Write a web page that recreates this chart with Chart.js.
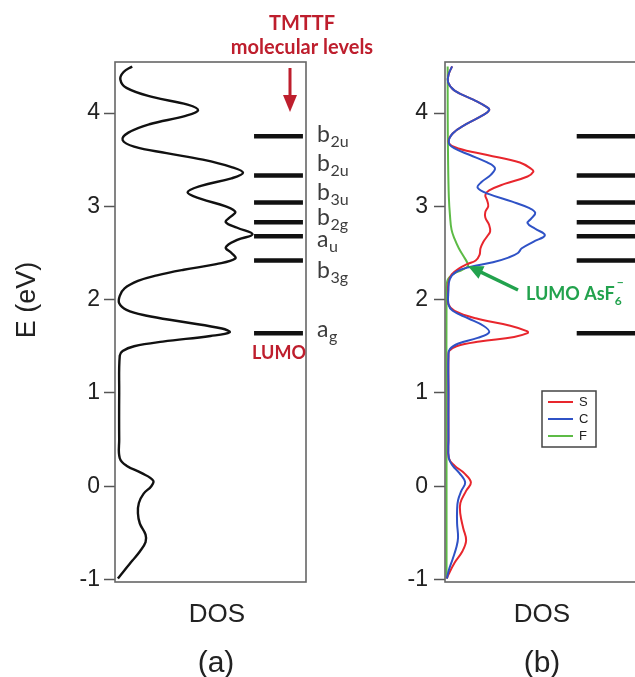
<!DOCTYPE html>
<html>
<head>
<meta charset="utf-8">
<script src="https://cdn.jsdelivr.net/npm/chart.js@4.4.1/dist/chart.umd.min.js"></script>
<style>
  html, body { margin: 0; padding: 0; background: #fff; overflow: hidden; }
  #wrap { position: relative; width: 660px; height: 677px; }
  canvas { position: absolute; top: 0; }
</style>
</head>
<body>
<div id="wrap">
  <canvas id="chartA" width="400" height="677" style="left:0"></canvas>
  <canvas id="chartB" width="340" height="677" style="left:320px"></canvas>
</div>
<script>
// energy axis
const yTicks = [-1, 0, 1, 2, 3, 4];
const eMin = -1.027, eMax = 4.547;

// (a) total DOS
const totalE = [4.50, 4.44, 4.36, 4.27, 4.17, 4.09, 4.03, 3.97, 3.88, 3.79, 3.71, 3.64, 3.57, 3.50, 3.42, 3.36, 3.30, 3.22, 3.15, 3.08,
  3.00, 2.94, 2.88, 2.83, 2.77, 2.70, 2.64, 2.56, 2.50, 2.44, 2.38, 2.32, 2.26, 2.20, 2.12, 2.04, 1.96, 1.89, 1.83, 1.76,
  1.69, 1.65, 1.61, 1.55, 1.50, 1.45, 1.40, 1.00, 0.50, 0.30, 0.22, 0.14, 0.06, 0.00, -0.08, -0.18, -0.29, -0.40, -0.52, -0.60,
  -0.70, -0.80, -0.90, -0.99];
const totalDOS = [0.09, 0.045, 0.028, 0.06, 0.20, 0.38, 0.435, 0.37, 0.18, 0.07, 0.04, 0.10, 0.27, 0.46, 0.61, 0.67, 0.61, 0.45, 0.38, 0.45,
  0.58, 0.63, 0.60, 0.58, 0.64, 0.72, 0.64, 0.58, 0.61, 0.63, 0.53, 0.36, 0.22, 0.12, 0.05, 0.025, 0.022, 0.06, 0.16, 0.36,
  0.56, 0.60, 0.50, 0.25, 0.10, 0.04, 0.025, 0.022, 0.022, 0.025, 0.06, 0.14, 0.20, 0.19, 0.15, 0.125, 0.12, 0.13, 0.16, 0.16,
  0.13, 0.09, 0.05, 0.015];

// (b) partial DOS
const cE = [4.50, 4.42, 4.33, 4.24, 4.14, 4.06, 4.03, 3.98, 3.88, 3.78, 3.68, 3.62, 3.55, 3.47, 3.41, 3.34, 3.26, 3.20, 3.13, 3.05,
  2.98, 2.93, 2.87, 2.82, 2.76, 2.69, 2.62, 2.55, 2.50, 2.45, 2.40, 2.35, 2.30, 2.22, 2.10, 1.95, 1.88, 1.80, 1.72, 1.65,
  1.59, 1.53, 1.47, 1.40, 1.00, 0.50, 0.30, 0.22, 0.14, 0.04, -0.05, -0.15, -0.25, -0.40, -0.55, -0.65, -0.78, -0.90, -0.99];
const cDOS = [0.037, 0.02, 0.016, 0.05, 0.15, 0.22, 0.23, 0.20, 0.11, 0.04, 0.02, 0.05, 0.13, 0.22, 0.26, 0.24, 0.19, 0.17, 0.23, 0.35,
  0.44, 0.47, 0.45, 0.43, 0.47, 0.52, 0.46, 0.40, 0.38, 0.33, 0.25, 0.13, 0.06, 0.025, 0.018, 0.018, 0.04, 0.12, 0.20, 0.23,
  0.17, 0.07, 0.025, 0.018, 0.018, 0.018, 0.02, 0.04, 0.075, 0.105, 0.085, 0.068, 0.063, 0.063, 0.068, 0.06, 0.04, 0.02, 0.01];
const sE = [4.50, 4.42, 4.33, 4.24, 4.14, 4.06, 4.03, 3.98, 3.88, 3.78, 3.68, 3.62, 3.55, 3.47, 3.40, 3.37, 3.32, 3.24, 3.17, 3.12,
  3.06, 3.00, 2.94, 2.88, 2.80, 2.73, 2.68, 2.62, 2.55, 2.48, 2.42, 2.38, 2.33, 2.27, 2.18, 2.05, 1.95, 1.88, 1.80, 1.72,
  1.66, 1.64, 1.60, 1.55, 1.50, 1.45, 1.40, 1.00, 0.50, 0.30, 0.22, 0.14, 0.04, -0.05, -0.18, -0.30, -0.45, -0.58, -0.70, -0.82,
  -0.96, -0.99];
const sDOS = [0.037, 0.02, 0.016, 0.05, 0.15, 0.22, 0.23, 0.20, 0.11, 0.04, 0.02, 0.07, 0.22, 0.39, 0.45, 0.46, 0.43, 0.31, 0.23, 0.21,
  0.22, 0.225, 0.21, 0.21, 0.23, 0.235, 0.22, 0.20, 0.185, 0.18, 0.16, 0.115, 0.07, 0.035, 0.018, 0.016, 0.018, 0.05, 0.16, 0.34,
  0.43, 0.43, 0.36, 0.18, 0.06, 0.022, 0.018, 0.018, 0.018, 0.02, 0.05, 0.10, 0.135, 0.11, 0.08, 0.08, 0.095, 0.11, 0.09, 0.05,
  0.015, 0.01];
const fE = [4.50, 4.00, 3.50, 3.10, 2.90, 2.75, 2.65, 2.55, 2.47, 2.40, 2.36, 2.32, 2.27, 2.20, 2.00, 1.00, 0.00, -0.99];
const fDOS = [0.014, 0.014, 0.016, 0.02, 0.026, 0.034, 0.05, 0.072, 0.095, 0.115, 0.12, 0.09, 0.04, 0.012, 0.008, 0.008, 0.008, 0.008];

// TMTTF molecular levels
const levelE = [3.75, 3.33, 3.04, 2.83, 2.68, 2.42, 1.64];
const levelMain = ['b', 'b', 'b', 'b', 'a', 'b', 'a'];
const levelSub = ['2u', '2u', '3u', '2g', 'u', '3g', 'g'];
const levelLabelE = [3.689, 3.378, 3.068, 2.80, 2.564, 2.232, 1.599];

const seriesNames = ['S', 'C', 'F'];
const seriesColors = ['#e8262d', '#2f52c6', '#5dbb46'];
const darkRed = '#be1e2d';
const textGrey = '#222';

const pts = (E, D) => E.map((e, i) => ({x: D[i], y: e}));
const levels = (x0, x1) => levelE.map(e => ({
  data: [{x: x0, y: e}, {x: x1, y: e}], borderColor: '#111', borderWidth: 4.5, showLine: true, pointRadius: 0, tension: 0
}));

function drawSub(ctx, x, y, main, sub, size, color) {
  ctx.fillStyle = color;
  ctx.textAlign = 'left';
  ctx.textBaseline = 'alphabetic';
  ctx.font = size + 'px Lato';
  ctx.fillText(main, x, y);
  const w = ctx.measureText(main).width;
  ctx.font = Math.round(size * 0.68) + 'px Lato';
  ctx.fillText(sub, x + w + 0.5, y + size * 0.2);
}

function arrow(ctx, x1, y1, x2, y2, color, lw, head, hw) {
  const a = Math.atan2(y2 - y1, x2 - x1);
  const c = Math.cos(a), s = Math.sin(a);
  ctx.strokeStyle = color; ctx.fillStyle = color; ctx.lineWidth = lw;
  ctx.beginPath(); ctx.moveTo(x1, y1); ctx.lineTo(x2 - head * c * 0.8, y2 - head * s * 0.8); ctx.stroke();
  ctx.beginPath(); ctx.moveTo(x2, y2);
  ctx.lineTo(x2 - head * c + hw * s, y2 - head * s - hw * c);
  ctx.lineTo(x2 - head * c - hw * s, y2 - head * s + hw * c);
  ctx.closePath(); ctx.fill();
}

const frame = {
  id: 'frame',
  afterDatasetsDraw(chart) {
    const {ctx, chartArea: a} = chart;
    ctx.save();
    ctx.strokeStyle = '#666'; ctx.lineWidth = 1.6;
    ctx.strokeRect(a.left, a.top, a.right - a.left, a.bottom - a.top);
    ctx.restore();
  }
};

function options(yWidth, pad, tickPad) {
  return {
    responsive: false,
    animation: false,
    layout: {padding: pad},
    plugins: {legend: {display: false}, tooltip: {enabled: false}},
    scales: {
      x: {type: 'linear', min: 0, max: 1, display: false},
      y: {
        type: 'linear', min: eMin, max: eMax,
        afterBuildTicks: s => { s.ticks = yTicks.map(v => ({value: v})); },
        afterFit: s => { s.width = yWidth; },
        border: {display: false},
        grid: {drawOnChartArea: false, drawTicks: true, tickLength: 11, tickColor: '#555', tickWidth: 1.5},
        ticks: {color: textGrey, padding: tickPad, font: {family: 'Liberation Sans', size: 23}}
      }
    }
  };
}

// panel (a)
new Chart(document.getElementById('chartA'), {
  type: 'scatter',
  data: {
    datasets: [
      {data: pts(totalE, totalDOS), borderColor: '#111', borderWidth: 2.4, showLine: true, pointRadius: 0, tension: 0.4},
      ...levels(0.728, 0.984)
    ]
  },
  options: options(115, {left: 0, top: 62, right: 94, bottom: 95}, 4),
  plugins: [frame, {
    id: 'annotA',
    afterDraw(chart) {
      const {ctx} = chart;
      const y = chart.scales.y;
      ctx.save();
      levelE.forEach((e, i) => drawSub(ctx, 317, y.getPixelForValue(levelLabelE[i]), levelMain[i], levelSub[i], 23, '#3c3c3c'));
      ctx.fillStyle = darkRed;
      ctx.textAlign = 'center';
      ctx.font = 'bold 18px Lato';
      ctx.fillText('LUMO', 279, 359);
      ctx.font = 'bold 20px Lato';
      ctx.fillText('TMTTF', 302, 30);
      ctx.fillText('molecular levels', 302, 54);
      arrow(ctx, 290, 68, 290, 112, darkRed, 3, 17, 7);
      ctx.fillStyle = textGrey;
      ctx.font = '26px Liberation Sans';
      ctx.fillText('DOS', 217, 622);
      ctx.font = '30px Liberation Sans';
      ctx.fillText('(a)', 216, 672);
      ctx.translate(28, 300);
      ctx.rotate(-Math.PI / 2);
      ctx.textBaseline = 'middle';
      ctx.font = '27px Liberation Sans';
      ctx.fillText('E (eV)', 0, 0);
      ctx.restore();
    }
  }]
});

// panel (b)
new Chart(document.getElementById('chartB'), {
  type: 'scatter',
  data: {
    datasets: [
      {data: pts(cE, cDOS), borderColor: seriesColors[1], borderWidth: 2, showLine: true, pointRadius: 0, tension: 0.4},
      {data: pts(sE, sDOS), borderColor: seriesColors[0], borderWidth: 2, showLine: true, pointRadius: 0, tension: 0.4},
      {data: pts(fE, fDOS), borderColor: seriesColors[2], borderWidth: 2, showLine: true, pointRadius: 0, tension: 0.4},
      ...levels(0.686, 0.99)
    ]
  },
  options: options(125, {left: 0, top: 62, right: 23, bottom: 95}, 6),
  plugins: [frame, {
    id: 'annotB',
    afterDraw(chart) {
      const {ctx} = chart;
      ctx.save();
      // legend box
      ctx.strokeStyle = '#444'; ctx.lineWidth = 1.5;
      ctx.strokeRect(222, 391, 54, 56);
      ctx.font = '13px Liberation Sans';
      ctx.textBaseline = 'middle';
      ctx.textAlign = 'left';
      seriesNames.forEach((n, i) => {
        const yy = 402 + i * 17;
        ctx.strokeStyle = seriesColors[i]; ctx.lineWidth = 2;
        ctx.beginPath(); ctx.moveTo(228, yy); ctx.lineTo(253, yy); ctx.stroke();
        ctx.fillStyle = textGrey;
        ctx.fillText(n, 259, yy);
      });
      // AsF6 LUMO
      const green = '#22a24d';
      ctx.fillStyle = green;
      ctx.textBaseline = 'alphabetic';
      ctx.font = 'bold 18px Lato';
      ctx.fillText('LUMO AsF', 206, 300);
      const w = ctx.measureText('LUMO AsF').width;
      ctx.font = 'bold 12px Lato';
      ctx.fillText('6', 206 + w, 305);
      ctx.fillText('\u2212', 206 + w + 2, 286);
      arrow(ctx, 198, 290, 148, 266, green, 3.5, 15, 7);
      // axis label
      ctx.fillStyle = textGrey;
      ctx.textAlign = 'center';
      ctx.font = '26px Liberation Sans';
      ctx.fillText('DOS', 222, 622);
      ctx.font = '30px Liberation Sans';
      ctx.fillText('(b)', 222, 672);
      ctx.restore();
    }
  }]
});
</script>
</body>
</html>
